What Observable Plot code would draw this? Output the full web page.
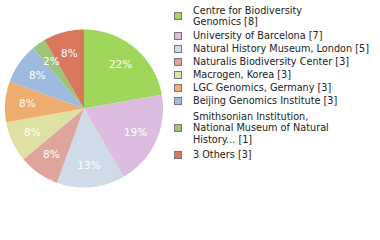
<!DOCTYPE html>
<html>
<head>
<meta charset="utf-8">
<script src="https://cdn.jsdelivr.net/npm/d3@7"></script>
<script src="https://cdn.jsdelivr.net/npm/@observablehq/plot@0.6"></script>
<style>
  html, body { margin: 0; padding: 0; background: #fff; }
  #wrap { position: relative; width: 380px; height: 240px; overflow: hidden; font-family: "DejaVu Sans", sans-serif; }
  #pie { position: absolute; left: 0; top: 0; }
  #legend { position: absolute; left: 174px; top: 2.5px; font-size: 9.7px; color: #222; }
  .item { display: flex; align-items: center; line-height: 11.5px; }
  .sw { width: 6px; height: 6px; border: 1px solid #777; flex: none; margin-right: 11px; }
</style>
</head>
<body>
<div id="wrap"><div id="pie"></div><div id="legend"></div></div>
<script>
const labels = [
  "Centre for Biodiversity\nGenomics [8]",
  "University of Barcelona [7]",
  "Natural History Museum, London [5]",
  "Naturalis Biodiversity Center [3]",
  "Macrogen, Korea [3]",
  "LGC Genomics, Germany [3]",
  "Beijing Genomics Institute [3]",
  "Smithsonian Institution,\nNational Museum of Natural\nHistory... [1]",
  "3 Others [3]"
];
const counts = [8, 7, 5, 3, 3, 3, 3, 1, 3];
const colors = ["#a0d75b", "#dcbde0", "#cfdbe6", "#dea59c", "#dee1a1", "#eeac6e", "#9dbbe0", "#9cc479", "#da765b"];

const total = d3.sum(counts);
const slices = counts.map((v, i) => ({name: labels[i], value: v, color: colors[i]}));
const arcs = d3.pie().sort(null).value(d => d.value)(slices);

const poly = [];
const lab = [];
arcs.forEach(a => {
  const n = Math.max(2, Math.ceil((a.endAngle - a.startAngle) / 0.02));
  poly.push({name: a.data.name, color: a.data.color, x: 0, y: 0});
  for (let k = 0; k <= n; k++) {
    const t = a.startAngle + (a.endAngle - a.startAngle) * k / n;
    poly.push({name: a.data.name, color: a.data.color, x: Math.sin(t), y: Math.cos(t)});
  }
  poly.push({name: a.data.name, color: a.data.color, x: 0, y: 0});
  const m = (a.startAngle + a.endAngle) / 2;
  lab.push({x: 0.72 * Math.sin(m), y: 0.72 * Math.cos(m), text: Math.floor(100 * a.data.value / total) + "%"});
});

const cx = 83.5, cy = 108, r = 79;
const chart = Plot.plot({
  width: 180, height: 240,
  margin: 0,
  x: {domain: [-1, 1], range: [cx - r, cx + r], axis: null},
  y: {domain: [-1, 1], range: [cy + r, cy - r], axis: null},
  marks: [
    Plot.line(poly, {x: "x", y: "y", z: "name", fill: "color", stroke: "none", curve: "linear"}),
    Plot.text(lab, {x: "x", y: "y", text: "text", fill: "white", fontSize: 10.5, fontFamily: "DejaVu Sans", style: "letter-spacing:1px"})
  ]
});
document.getElementById("pie").appendChild(chart);

const leg = document.getElementById("legend");
slices.forEach(s => {
  const lines = s.name.split("\n");
  const n = lines.length;
  const pad = (14 * n - 1 - 11.5 * n) / 2;
  const it = document.createElement("div");
  it.className = "item";
  it.style.paddingTop = pad + "px";
  it.style.paddingBottom = pad + "px";
  const sw = document.createElement("div");
  sw.className = "sw";
  sw.style.background = s.color;
  const tx = document.createElement("div");
  tx.innerHTML = lines.join("<br>");
  it.appendChild(sw); it.appendChild(tx);
  leg.appendChild(it);
});
</script>
</body>
</html>
